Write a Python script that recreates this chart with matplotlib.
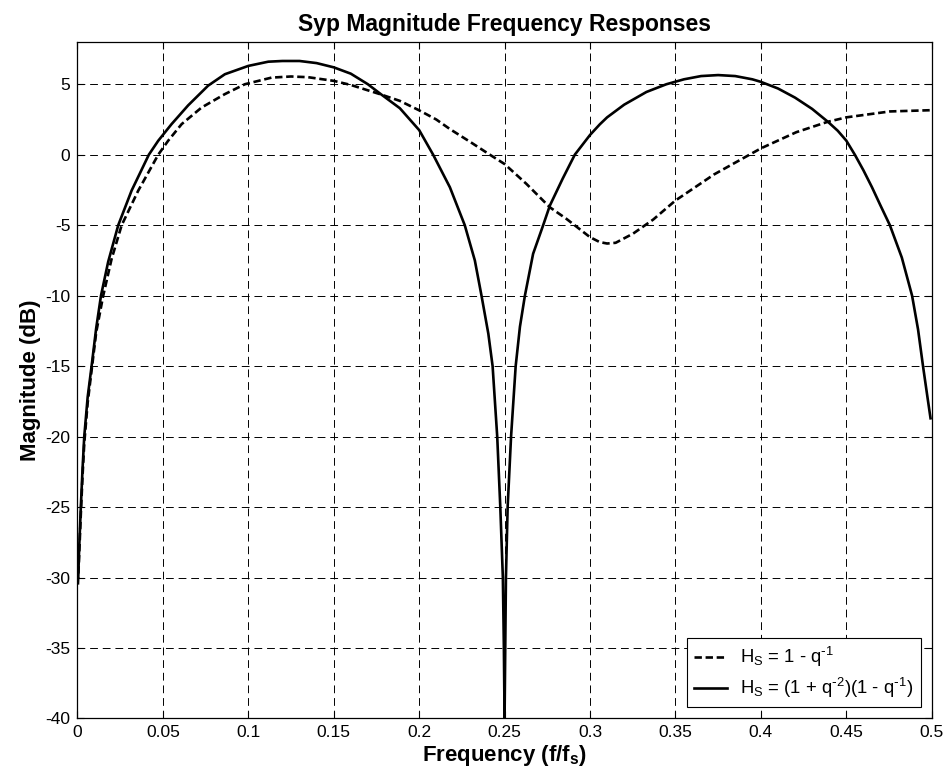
import matplotlib
matplotlib.use('Agg')
import matplotlib.pyplot as plt

# values (frequency f/fs, magnitude dB)
freq_dashed = [0.0003, 0.001, 0.002, 0.003, 0.004, 0.006, 0.0083, 0.011, 0.0151, 0.02,
               0.0259, 0.0356, 0.0473, 0.0531, 0.061, 0.0727, 0.0863, 0.098, 0.1136, 0.125,
               0.135, 0.15, 0.16, 0.177, 0.1887, 0.2, 0.21, 0.218, 0.23, 0.2414,
               0.25, 0.2628, 0.2765, 0.2862, 0.3, 0.3057, 0.31, 0.315, 0.3252, 0.337,
               0.35, 0.3726, 0.4, 0.4208, 0.439, 0.45, 0.4755, 0.5]
mag_dashed = [-30.5, -28.5, -25.5, -22.8, -20.5, -17.6, -15.3, -12.6, -10.0, -7.4,
              -5.0, -2.55, 0.0, 0.99, 2.17, 3.35, 4.3, 5.0, 5.47, 5.55,
              5.5, 5.24, 4.95, 4.3, 3.82, 3.15, 2.5, 1.82, 0.9, 0.0,
              -0.66, -2.07, -3.73, -4.55, -5.85, -6.2, -6.3, -6.25, -5.6, -4.6,
              -3.25, -1.4, 0.45, 1.6, 2.33, 2.65, 3.07, 3.16]

freq_solid = [0.0005, 0.001, 0.002, 0.003, 0.004, 0.006, 0.0083, 0.011, 0.0138, 0.018,
              0.0239, 0.0317, 0.0418, 0.0473, 0.0551, 0.0648, 0.0765, 0.0863, 0.1, 0.1117,
              0.12, 0.13, 0.14, 0.15, 0.16, 0.17, 0.177, 0.1887, 0.2, 0.2082,
              0.218, 0.2267, 0.2326, 0.2365, 0.2405, 0.243, 0.2457, 0.2475, 0.249, 0.2496,
              0.25, 0.2504, 0.2508, 0.2518, 0.2538, 0.2565, 0.259, 0.2619, 0.2667, 0.2726,
              0.2765, 0.284, 0.2911, 0.3, 0.3057, 0.31, 0.32, 0.333, 0.3447, 0.355,
              0.365, 0.375, 0.385, 0.395, 0.4, 0.41, 0.42, 0.43, 0.4393, 0.445,
              0.45, 0.455, 0.46, 0.465, 0.47, 0.4755, 0.4825, 0.4885, 0.492, 0.4949,
              0.4975, 0.4993]
mag_solid = [-30.0, -28.0, -25.0, -22.3, -20.0, -17.2, -15.0, -12.3, -10.0, -7.6,
             -5.0, -2.55, 0.0, 0.99, 2.17, 3.5, 4.9, 5.71, 6.3, 6.6,
             6.65, 6.65, 6.5, 6.2, 5.75, 5.0, 4.35, 3.3, 1.75, 0.0,
             -2.31, -5.0, -7.5, -10.0, -12.7, -15.0, -20.0, -25.0, -30.0, -35.0,
             -40.0, -35.0, -30.0, -25.0, -20.0, -15.0, -12.2, -10.0, -7.03, -5.0,
             -3.61, -1.7, 0.0, 1.4, 2.15, 2.65, 3.55, 4.45, 5.0, 5.35,
             5.58, 5.65, 5.58, 5.35, 5.17, 4.7, 4.05, 3.25, 2.33, 1.7,
             1.0, 0.0, -1.1, -2.3, -3.6, -5.0, -7.3, -10.0, -12.4, -15.0,
             -17.2, -18.7]

xticks = [0, 0.05, 0.1, 0.15, 0.2, 0.25, 0.3, 0.35, 0.4, 0.45, 0.5]
xtick_labels = ['0', '0.05', '0.1', '0.15', '0.2', '0.25', '0.3', '0.35', '0.4', '0.45', '0.5']
yticks = [-40, -35, -30, -25, -20, -15, -10, -5, 0, 5]

plt.rcParams['font.family'] = ['Liberation Sans', 'DejaVu Sans']
plt.rcParams['mathtext.default'] = 'regular'
plt.rcParams['axes.unicode_minus'] = False

fig = plt.figure(figsize=(9.44, 7.77), dpi=100)
ax = fig.add_axes([0.082, 0.0753, 0.905, 0.8707])

ax.plot(freq_dashed, mag_dashed, color='k', linestyle='--', dashes=(2.8, 1.4), linewidth=1.9,
        label=r'H$_S$ = 1 - q$^{\text{-}1}$')
ax.plot(freq_solid, mag_solid, color='k', linestyle='-', linewidth=1.9,
        label=r'H$_S$ = (1 + q$^{\text{-}2}$)(1 - q$^{\text{-}1}$)')

ax.set_xlim(0, 0.5)
ax.set_ylim(-40, 8)
ax.set_xticks(xticks)
ax.set_xticklabels(xtick_labels)
ax.set_yticks(yticks)
ax.tick_params(direction='in', top=True, right=True, labelsize=12.5, length=5, width=0.8, pad=5)
ax.grid(True, color='k', linestyle=(0, (8, 5)), linewidth=0.7)
for s in ax.spines.values():
    s.set_linewidth(0.9)

ax.set_title('Syp Magnitude Frequency Responses', fontsize=16.5, fontweight='bold', pad=8)
ax.set_xlabel('Frequency (f/f$_s$)', fontsize=16, fontweight='bold', labelpad=2)
ax.set_ylabel('Magnitude (dB)', fontsize=16, fontweight='bold', labelpad=3)

leg = ax.legend(loc='lower right', fontsize=13.3, fancybox=False, framealpha=1,
                edgecolor='k', handlelength=1.8, handletextpad=0.7, borderaxespad=0.6,
                labelspacing=0.35)
leg.get_frame().set_linewidth(0.8)

fig.savefig('out.png', dpi=100)
